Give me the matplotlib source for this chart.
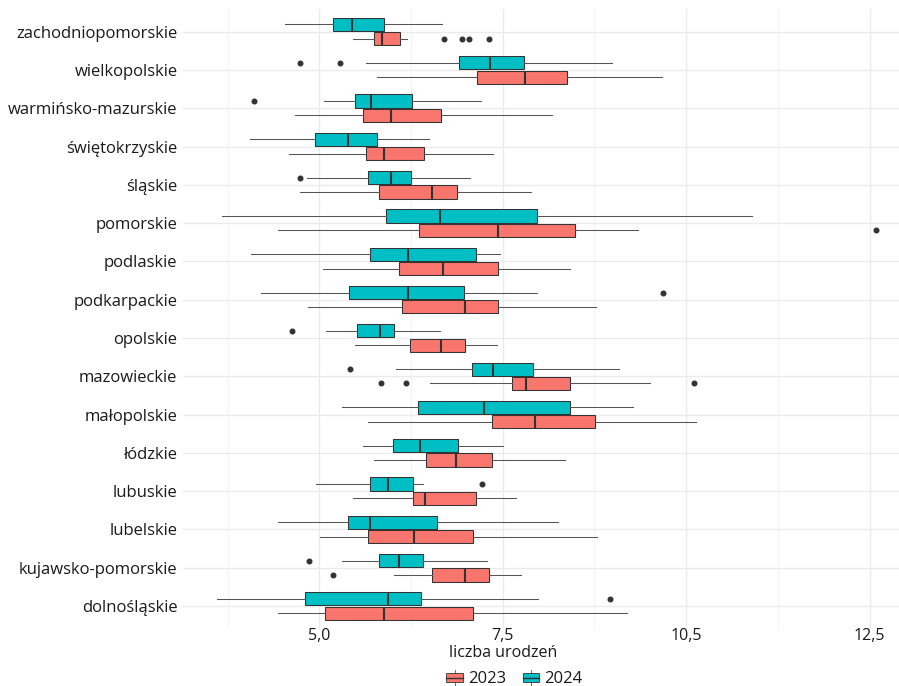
import matplotlib
matplotlib.use("Agg")
import matplotlib.pyplot as plt
from matplotlib.patches import Rectangle, Patch
from matplotlib.lines import Line2D
from matplotlib.legend_handler import HandlerBase
from matplotlib.ticker import FixedLocator, FixedFormatter

plt.rcParams["font.family"] = ["Open Sans", "DejaVu Sans"]

# voivodeships, bottom to top
regions = [
    "dolnośląskie", "kujawsko-pomorskie", "lubelskie", "lubuskie", "łódzkie",
    "małopolskie", "mazowieckie", "opolskie", "podkarpackie", "podlaskie",
    "pomorskie", "śląskie", "świętokrzyskie", "warmińsko-mazurskie",
    "wielkopolskie", "zachodniopomorskie",
]

# 2023 box statistics
lo_2023 = [4.43, 6.02, 5.01, 5.46, 5.74, 5.66, 6.51, 5.49, 4.85, 5.05, 4.44, 4.73, 4.58, 4.67, 5.78, 5.46]
q1_2023 = [5.08, 6.54, 5.66, 6.28, 6.45, 7.36, 7.63, 6.23, 6.13, 6.09, 6.36, 5.81, 5.64, 5.59, 7.15, 5.75]
med_2023 = [5.88, 6.99, 6.29, 6.44, 6.86, 7.94, 7.81, 6.66, 6.98, 6.68, 7.43, 6.53, 5.88, 5.98, 7.80, 5.85]
q3_2023 = [7.10, 7.31, 7.09, 7.13, 7.36, 8.76, 8.41, 6.99, 7.43, 7.43, 8.49, 6.88, 6.42, 6.66, 8.37, 6.10]
hi_2023 = [9.19, 7.75, 8.79, 7.68, 8.35, 10.14, 9.50, 7.42, 8.77, 8.41, 9.34, 7.88, 7.37, 8.17, 9.67, 6.20]
out_2023 = [[], [5.19], [], [], [], [], [5.84, 6.18, 10.11], [], [], [], [12.58], [], [], [], [],
            [6.70, 6.95, 7.04, 7.31]]

# 2024 box statistics
lo_2024 = [3.61, 5.31, 4.43, 4.96, 5.60, 5.31, 6.05, 5.09, 4.21, 4.07, 3.68, 4.83, 4.06, 5.07, 5.63, 4.53]
q1_2024 = [4.80, 5.81, 5.39, 5.69, 6.01, 6.34, 7.08, 5.51, 5.40, 5.69, 5.91, 5.66, 4.94, 5.48, 6.90, 5.19]
med_2024 = [5.94, 6.08, 5.69, 5.93, 6.37, 7.25, 7.37, 5.83, 6.21, 6.21, 6.64, 5.98, 5.39, 5.70, 7.32, 5.45]
q3_2024 = [6.38, 6.41, 6.61, 6.27, 6.89, 8.42, 7.91, 6.02, 6.97, 7.13, 7.96, 6.25, 5.79, 6.26, 7.79, 5.88]
hi_2024 = [7.98, 7.28, 8.25, 6.41, 7.50, 9.28, 9.09, 6.64, 7.96, 7.46, 10.90, 7.05, 6.50, 7.21, 8.99, 6.67]
out_2024 = [[8.96], [4.86], [], [7.22], [], [], [5.42], [4.63], [9.69], [], [], [4.73], [], [4.11],
            [4.74, 5.28], []]

years = ["2023", "2024"]
colors = {"2023": "#F8766D", "2024": "#00BFC4"}
tick_values = [5.0, 7.5, 10.0, 12.5]
tick_labels = ["5,0", "7,5", "10,5", "12,5"]
minor_values = [3.75, 6.25, 8.75, 11.25]

EDGE = "#333333"
TEXT = "#1a1a1a"

fig = plt.figure(figsize=(8.99, 6.86), dpi=100)
ax = fig.add_axes([183 / 899, 1 - 629 / 686, (899 - 183) / 899, (629 - 8.7) / 686])


def stats_for(lo, q1, med, q3, hi, out):
    return [dict(whislo=a, q1=b, med=c, q3=d, whishi=e, fliers=f)
            for a, b, c, d, e, f in zip(lo, q1, med, q3, hi, out)]


series = {
    "2023": stats_for(lo_2023, q1_2023, med_2023, q3_2023, hi_2023, out_2023),
    "2024": stats_for(lo_2024, q1_2024, med_2024, q3_2024, hi_2024, out_2024),
}
offsets = {"2023": -0.1875, "2024": 0.1875}

for yr in years:
    pos = [i + offsets[yr] for i in range(len(regions))]
    ax.bxp(
        series[yr], positions=pos, widths=0.345, vert=False, patch_artist=True,
        showcaps=False, manage_ticks=False,
        boxprops=dict(facecolor=colors[yr], edgecolor=EDGE, linewidth=0.75),
        whiskerprops=dict(color="#555555", linewidth=0.75),
        medianprops=dict(color=EDGE, linewidth=1.5),
        flierprops=dict(marker="o", markersize=3.3, markerfacecolor=EDGE,
                        markeredgecolor=EDGE, linestyle="none"),
    )

ax.set_xlim(3.142, 12.90)
ax.set_ylim(-0.6, len(regions) - 0.4)
ax.xaxis.set_major_locator(FixedLocator(tick_values))
ax.xaxis.set_major_formatter(FixedFormatter(tick_labels))
ax.xaxis.set_minor_locator(FixedLocator(minor_values))
ax.set_yticks(range(len(regions)))
ax.set_yticklabels(regions)

ax.grid(True, which="major", color="#EBEBEB", linewidth=1.0)
ax.grid(True, which="minor", axis="x", color="#F2F2F2", linewidth=0.6)
ax.set_axisbelow(True)
for s in ax.spines.values():
    s.set_visible(False)
ax.tick_params(axis="both", which="both", length=0)
ax.tick_params(axis="y", labelsize=12, labelcolor=TEXT, pad=4)
ax.tick_params(axis="x", labelsize=11.5, labelcolor=TEXT, pad=-0.5)

fig.text(503 / 899, 1 - 653 / 686, "liczba urodzeń", ha="center", va="center",
         fontsize=11.5, color=TEXT)


class BoxKey(HandlerBase):
    def create_artists(self, legend, orig_handle, xdescent, ydescent, width, height, fontsize, trans):
        x0, y0 = -xdescent, -ydescent
        fc = orig_handle.get_facecolor()
        box = Rectangle((x0, y0 + 0.2 * height), width, 0.6 * height,
                        facecolor=fc, edgecolor=EDGE, linewidth=0.6, transform=trans)
        med = Line2D([x0, x0 + width], [y0 + 0.5 * height] * 2, color=EDGE, linewidth=1.0, transform=trans)
        w1 = Line2D([x0 + width / 2] * 2, [y0, y0 + 0.2 * height], color="#555555", linewidth=0.6, transform=trans)
        w2 = Line2D([x0 + width / 2] * 2, [y0 + 0.8 * height, y0 + height], color="#555555", linewidth=0.6,
                    transform=trans)
        return [w1, w2, box, med]


handles = [Patch(facecolor=colors[y]) for y in years]
fig.legend(handles, years, handler_map={Patch: BoxKey()}, loc="center",
           bbox_to_anchor=(514.5 / 899, 1 - 678.5 / 686), ncol=2, frameon=False,
           fontsize=12, handlelength=1.0, handleheight=1.1, handletextpad=0.3,
           columnspacing=1.0, labelcolor=TEXT)

fig.savefig("out.png", dpi=100)
